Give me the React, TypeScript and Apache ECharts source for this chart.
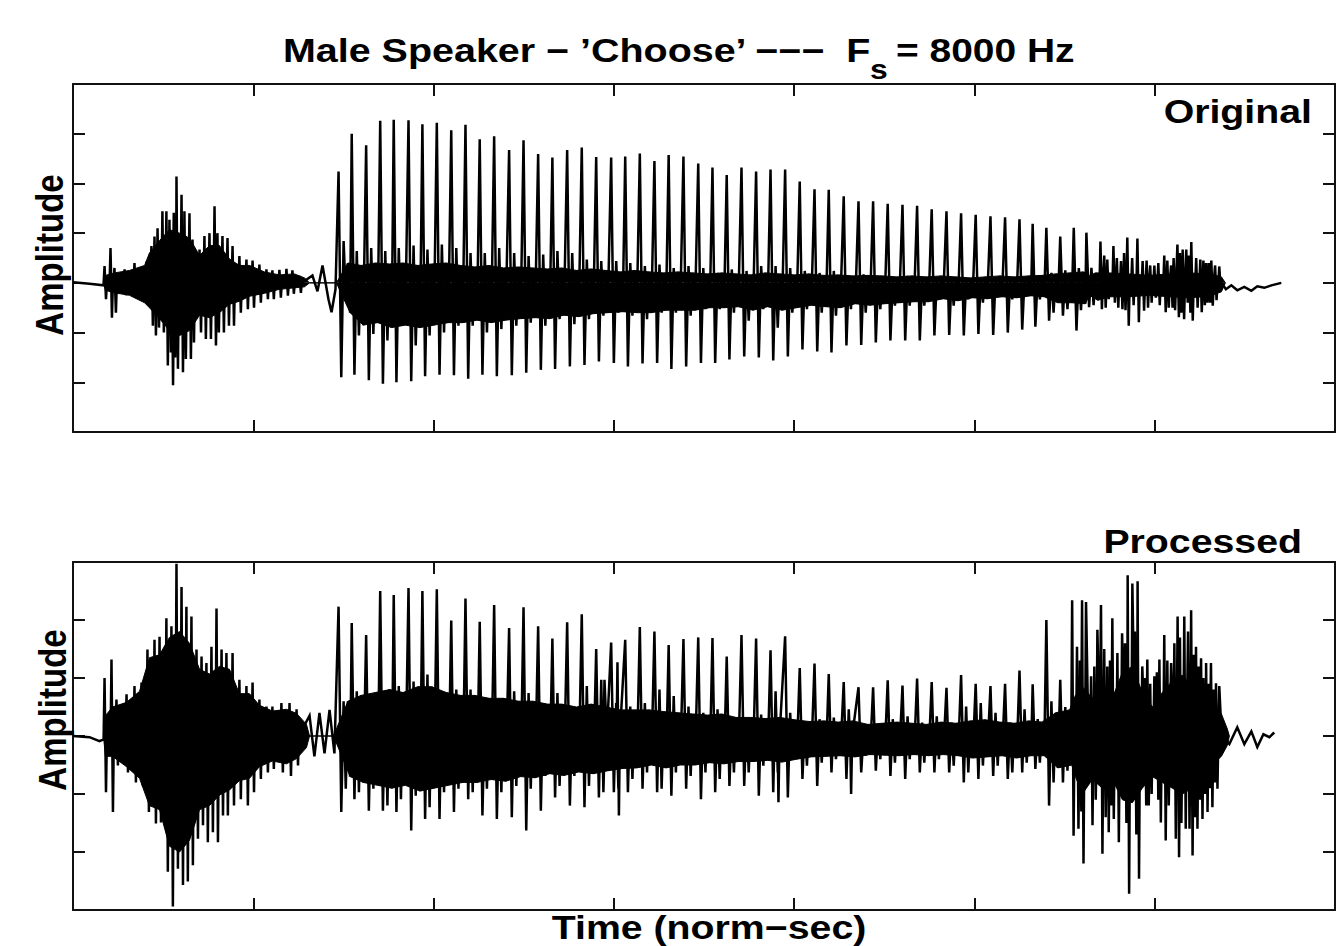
import React, { useEffect, useRef } from "react";
import * as echarts from "echarts";

// ---------------- text ----------------
const titleMain = "Male Speaker − ’Choose’ −−−  F";
const titleSub = "s";
const titleTail = "= 8000 Hz";
const topLabel = "Original";
const bottomLabel = "Processed";
const xLabel = "Time (norm−sec)";
const yLabel = "Amplitude";

// ---------------- axes (norm-sec / amplitude) ----------------
const xRange = [0, 7];
const topYRange = [-3, 4];
const bottomYRange = [-3, 3];

// ---------------- glottal pulse instants (norm-sec) ----------------
const pulseTimes = [
  1.473, 1.546, 1.626, 1.704, 1.779, 1.861, 1.938, 2.018, 2.098, 2.177,
  2.256, 2.336, 2.419, 2.499, 2.58, 2.659, 2.741, 2.822, 2.902, 2.985,
  3.063, 3.144, 3.225, 3.304, 3.386, 3.468, 3.547, 3.626, 3.708, 3.789,
  3.869, 3.95, 4.031, 4.113, 4.192, 4.275, 4.357, 4.438, 4.519, 4.601,
  4.682, 4.763, 4.845, 4.926, 5.007, 5.089, 5.17, 5.25, 5.323, 5.399,
  5.476, 5.551, 5.621,
];

// ---------------- ORIGINAL ----------------
const origPeak = [
  2.24, 3.0, 2.77, 3.26, 3.28, 3.27, 3.19, 3.22, 3.07, 3.18,
  2.89, 2.95, 2.67, 2.87, 2.59, 2.52, 2.67, 2.72, 2.53, 2.52,
  2.54, 2.6, 2.45, 2.57, 2.54, 2.4, 2.32, 2.17, 2.32, 2.24,
  2.28, 2.28, 2.04, 1.88, 1.87, 1.74, 1.64, 1.64, 1.59, 1.57,
  1.55, 1.48, 1.44, 1.4, 1.37, 1.34, 1.32, 1.28, 1.19, 1.11,
  0.93, 1.11, 1.01,
];
const origTrough = [
  -1.9, -1.85, -1.96, -2.03, -2.0, -1.98, -1.88, -1.85, -1.86, -1.93,
  -1.85, -1.88, -1.86, -1.81, -1.75, -1.73, -1.68, -1.65, -1.58, -1.61,
  -1.68, -1.62, -1.61, -1.73, -1.68, -1.61, -1.61, -1.54, -1.48, -1.5,
  -1.56, -1.48, -1.34, -1.38, -1.4, -1.26, -1.25, -1.2, -1.16, -1.16,
  -1.16, -1.06, -1.05, -1.06, -1.03, -1.05, -1.0, -0.94, -0.88, -0.76,
  -0.66, -0.96, -0.49,
];
const origRing = [
  0.84, 0.64, 0.7, 0.64, 0.7, 0.75, 0.67, 0.77, 0.7, 0.6,
  0.6, 0.7, 0.6, 0.54, 0.57, 0.64, 0.6, 0.47, 0.44, 0.44,
  0.4, 0.34, 0.37, 0.3, 0.34, 0.3, 0.2, 0.27, 0.24, 0.34,
  0.34, 0.3, 0.24, 0.2, 0.24, 0.14, 0.17, 0.1, 0.07, 0.14,
  0.1, 0.07, 0.1, 0.07, 0.1, 0.07, 0.07, 0.1, 0.14, 0.2,
  0.25, 0.3, 0.3,
];
const origDip = [
  -0.26, -1.06, -1.03, -1.16, -0.86, -1.26, -1.06, -1.0, -0.86, -0.86,
  -1.0, -0.93, -0.86, -0.8, -0.86, -0.73, -0.83, -0.73, -0.66, -0.6,
  -0.66, -0.73, -0.6, -0.6, -0.66, -0.53, -0.53, -0.6, -0.76, -0.53,
  -0.9, -0.6, -0.53, -0.6, -0.66, -0.53, -0.6, -0.53, -0.46, -0.46,
  -0.46, -0.33, -0.46, -0.33, -0.4, -0.26, -0.33, -0.26, -0.33, -0.6,
  -0.53, -0.55, -0.45,
];
const origRing2 = [
  0.4, 0.35, 0.4, 0.38, 0.4, 0.35, 0.38, 0.4, 0.35, 0.32,
  0.35, 0.3, 0.32, 0.3, 0.28, 0.3, 0.25, 0.28, 0.25, 0.22,
  0.25, 0.22, 0.2, 0.22, 0.2, 0.18, 0.2, 0.18, 0.16, 0.2,
  0.18, 0.16, 0.18, 0.15, 0.16, 0.14, 0.15, 0.14, 0.12, 0.14,
  0.12, 0.14, 0.12, 0.1, 0.12, 0.14, 0.12, 0.14, 0.15, 0.18,
  0.2, 0.22, 0.2,
];
const origDip2 = [
  -0.6, -0.85, -0.8, -0.9, -0.85, -0.9, -0.85, -0.8, -0.8, -0.75,
  -0.8, -0.75, -0.72, -0.7, -0.72, -0.65, -0.68, -0.62, -0.6, -0.58,
  -0.6, -0.6, -0.55, -0.55, -0.55, -0.5, -0.5, -0.48, -0.55, -0.48,
  -0.55, -0.5, -0.45, -0.48, -0.5, -0.42, -0.45, -0.42, -0.4, -0.38,
  -0.38, -0.32, -0.36, -0.3, -0.32, -0.28, -0.3, -0.26, -0.28, -0.4,
  -0.4, -0.42, -0.35,
];
// solid core of the noisy regions (fricative onset & final burst)
const origBandT = [
  0.169, 0.18, 0.23, 0.313, 0.397, 0.424, 0.48, 0.535, 0.591, 0.646, 0.702, 0.757, 0.812, 0.868, 0.923, 0.979, 1.062, 1.145, 1.228, 1.284, 1.312,
  1.461,
  5.638, 5.748, 5.859, 5.97, 6.081, 6.192, 6.303, 6.37, 6.392,
];
const origBandHi = [
  0, 0.15, 0.2, 0.25, 0.35, 0.6, 0.85, 1.07, 1.0, 0.9, 0.55, 0.75, 0.75, 0.48, 0.35, 0.35, 0.22, 0.16, 0.18, 0.1, 0,
  0,
  0.15, 0.2, 0.18, 0.15, 0.18, 0.2, 0.18, 0.12, 0,
];
const origBandLo = [
  0, -0.15, -0.2, -0.25, -0.4, -0.5, -0.72, -0.96, -1.06, -0.96, -0.65, -0.7, -0.6, -0.43, -0.37, -0.27, -0.21, -0.13, -0.1, -0.08, 0,
  0,
  -0.25, -0.28, -0.28, -0.25, -0.28, -0.3, -0.27, -0.18, 0,
];
const origSpikeT = [
  0.175, 0.208, 0.23, 0.286, 0.341, 0.369, 0.408, 0.435, 0.452, 0.469, 0.496, 0.518, 0.535, 0.547, 0.559, 0.574,
  0.602, 0.618, 0.646, 0.663, 0.702, 0.729, 0.757, 0.785, 0.801, 0.829, 0.857, 0.885, 0.923, 0.962, 0.996, 1.034,
  1.073, 1.106, 1.145, 1.184, 1.217, 1.256,
  5.699, 5.72, 5.737, 5.771, 5.79, 5.813, 5.83, 5.848, 5.875, 5.904, 5.933, 5.955, 5.975, 5.998, 6.02, 6.053, 6.07,
  6.091, 6.105, 6.126, 6.14, 6.155, 6.175, 6.19, 6.203, 6.23, 6.253, 6.27, 6.285, 6.3, 6.314, 6.335, 6.358,
];
const origSpikeUp = [
  0.34, 0.7, 0.3, 0.27, 0.4, 0.3, 0.43, 0.74, 0.93, 1.1, 1.44, 1.44, 1.27, 0.9, 1.41, 2.14,
  1.77, 1.44, 1.4, 0.87, 0.67, 0.94, 1.0, 1.54, 1.0, 0.94, 0.9, 0.74, 0.54, 0.47, 0.45, 0.37,
  0.27, 0.25, 0.26, 0.28, 0.25, 0.14,
  0.83, 0.55, 0.47, 0.74, 0.5, 0.44, 0.6, 0.91, 0.5, 0.89, 0.44, 0.45, 0.35, 0.35, 0.4, 0.55, 0.45,
  0.35, 0.5, 0.77, 0.6, 0.67, 0.67, 0.55, 0.82, 0.5, 0.47, 0.45, 0.4, 0.4, 0.45, 0.35, 0.33,
];
const origSpikeDown = [
  -0.33, -0.7, -0.6, -0.25, -0.3, -0.28, -0.4, -0.86, -1.06, -0.9, -1.0, -1.66, -1.4, -2.06, -1.5, -1.73,
  -1.8, -1.53, -1.53, -1.2, -1.0, -1.13, -1.13, -1.26, -1.0, -1.0, -0.86, -0.86, -0.6, -0.53, -0.5, -0.4,
  -0.33, -0.33, -0.3, -0.26, -0.22, -0.2,
  -0.53, -0.5, -0.33, -0.4, -0.5, -0.53, -0.55, -0.86, -0.45, -0.79, -0.56, -0.5, -0.4, -0.3, -0.45, -0.59, -0.5,
  -0.5, -0.55, -0.69, -0.6, -0.73, -0.4, -0.6, -0.76, -0.5, -0.59, -0.45, -0.4, -0.4, -0.46, -0.35, -0.13,
];
// lead-in, pre-voicing ripple and decaying tail
const origFreeT = [0, 0.0915, 0.169, 1.328, 1.356, 1.384, 1.417, 1.434, 1.456, 6.395, 6.425, 6.458, 6.497, 6.536, 6.569, 6.608, 6.647, 6.702];
const origFreeV = [0.01, -0.02, -0.05, 0.15, -0.17, 0.35, -0.33, -0.59, -0.13, -0.13, -0.05, -0.15, -0.08, -0.16, -0.07, -0.1, -0.05, 0];

// ---------------- PROCESSED ----------------
const procPeak = [
  2.23, 1.95, 1.74, 2.5, 2.43, 2.55, 2.5, 2.53, 1.99, 2.37,
  1.97, 2.26, 1.86, 2.22, 1.89, 1.68, 1.96, 2.1, 1.5, 1.61,
  1.66, 1.88, 1.8, 1.57, 1.67, 1.7, 1.69, 1.37, 1.74, 1.68,
  1.48, 1.72, 1.17, 1.25, 1.07, 0.93, 0.84, 0.84, 0.96, 0.87,
  0.99, 0.93, 0.83, 1.05, 0.9, 0.86, 0.9, 1.13, 0.89, 2.0,
  0.97,
];
const procTrough = [
  -1.31, -1.09, -1.29, -1.29, -1.31, -1.63, -1.43, -1.43, -1.31, -1.09,
  -1.37, -1.43, -1.4, -1.63, -1.29, -1.06, -1.2, -1.23, -1.06, -0.97,
  -0.97, -0.91, -0.97, -1.03, -0.91, -1.09, -0.97, -0.86, -0.86, -1.03,
  -0.97, -1.06, -0.74, -0.86, -0.63, -0.74, -0.63, -0.6, -0.69, -0.74,
  -0.63, -0.63, -0.63, -0.8, -0.74, -0.69, -0.74, -0.63, -0.57, -1.2,
  -0.8,
];
const procRing = [
  0.6, 0.77, 0.69, 0.77, 0.86, 0.94, 1.06, 0.74, 0.8, 0.8,
  0.43, 0.51, 0.77, 0.74, 0.57, 0.74, 0.4, 0.86, 0.97, 0.57,
  0.51, 0.57, 0.8, 0.69, 0.51, 0.4, 0.46, 0.29, 0.32, 0.37,
  0.77, 0.4, 0.23, 0.29, 0.32, 0.46, 0.06, 0.17, 0.29, 0.34,
  0.23, 0.34, 0.23, 0.51, 0.57, 0.4, 0.23, 0.46, 0.29, 0.6,
  0.5,
];
const procDip = [
  -0.91, -0.97, -0.91, -1.2, -1.09, -1.03, -1.23, -0.97, -0.91, -0.97,
  -0.91, -0.97, -0.86, -0.91, -0.69, -0.86, -0.69, -0.86, -0.97, -0.91,
  -0.74, -0.63, -0.91, -0.63, -0.69, -0.63, -0.74, -0.63, -0.63, -0.51,
  -0.63, -0.4, -0.51, -0.46, -0.4, -0.46, -0.34, -0.4, -0.46, -0.4,
  -0.46, -0.4, -0.51, -0.63, -0.51, -0.51, -0.63, -0.46, -0.46, -0.8,
  -0.6,
];
const procRing2 = [
  0.6, 0.7, 0.75, 0.8, 0.75, 0.85, 0.85, 0.75, 0.7, 0.7,
  0.65, 0.65, 0.6, 0.6, 0.55, 0.55, 0.5, 0.55, 0.5, 0.45,
  0.45, 0.45, 0.42, 0.4, 0.38, 0.36, 0.38, 0.32, 0.32, 0.3,
  0.32, 0.28, 0.25, 0.26, 0.24, 0.26, 0.2, 0.22, 0.24, 0.22,
  0.2, 0.24, 0.22, 0.26, 0.28, 0.24, 0.22, 0.26, 0.24, 0.4,
  0.45,
];
const procDip2 = [
  -0.7, -0.8, -0.85, -0.9, -0.85, -0.95, -0.9, -0.85, -0.8, -0.8,
  -0.75, -0.78, -0.7, -0.72, -0.65, -0.68, -0.62, -0.65, -0.6, -0.56,
  -0.55, -0.5, -0.55, -0.5, -0.5, -0.46, -0.48, -0.44, -0.44, -0.42,
  -0.45, -0.4, -0.36, -0.35, -0.34, -0.36, -0.32, -0.33, -0.34, -0.32,
  -0.34, -0.32, -0.34, -0.38, -0.36, -0.34, -0.38, -0.34, -0.34, -0.55,
  -0.5,
];
const procBandT = [
  0.169, 0.18, 0.219, 0.297, 0.369, 0.424, 0.48, 0.535, 0.591, 0.646, 0.702, 0.757, 0.812, 0.868, 0.923, 0.979, 1.034, 1.106, 1.184, 1.24, 1.295, 1.312,
  1.445,
  5.56, 5.599, 5.654, 5.71, 5.765, 5.821, 5.876, 5.931, 5.987, 6.042, 6.098, 6.153, 6.209, 6.264, 6.32, 6.37, 6.403, 6.414,
];
const procBandHi = [
  0, 0.35, 0.5, 0.58, 0.77, 1.35, 1.4, 1.7, 1.8, 1.6, 1.15, 1.07, 1.2, 1.15, 0.73, 0.73, 0.53, 0.43, 0.46, 0.39, 0.2, 0,
  0,
  0.7, 0.85, 0.65, 0.9, 0.65, 1.1, 1.2, 0.75, 0.5, 0.75, 0.95, 1.05, 0.85, 0.55, 0.55, 0.38, 0.12, 0,
];
const procBandLo = [
  0, -0.35, -0.35, -0.53, -0.73, -1.2, -1.27, -1.9, -2.0, -1.8, -1.27, -1.2, -1.02, -0.93, -0.77, -0.73, -0.53, -0.43, -0.48, -0.39, -0.2, 0,
  0,
  -0.7, -1.0, -0.75, -0.9, -0.75, -1.1, -1.15, -0.9, -0.7, -0.8, -0.9, -1.0, -0.9, -0.6, -0.5, -0.35, -0.16, 0,
];
const procSpikeT = [
  0.175, 0.2135, 0.241, 0.297, 0.341, 0.38, 0.413, 0.452, 0.48, 0.518, 0.546, 0.574, 0.602, 0.629, 0.657, 0.685,
  0.713, 0.74, 0.768, 0.796, 0.824, 0.851, 0.885, 0.923, 0.962, 0.996, 1.034, 1.073, 1.106, 1.156, 1.201, 1.24,
  2.948, 3.02, 3.913, 4.316,
  5.542, 5.569, 5.585, 5.597, 5.619, 5.647, 5.665, 5.682, 5.702, 5.72, 5.737, 5.752, 5.765, 5.793, 5.819, 5.835,
  5.85, 5.876, 5.89, 5.905, 5.931, 5.945, 5.959, 5.975, 5.998, 6.012, 6.026, 6.053, 6.07, 6.091, 6.109, 6.127,
  6.14, 6.164, 6.185, 6.202, 6.215, 6.229, 6.243, 6.257, 6.27, 6.285, 6.298, 6.312, 6.326, 6.34, 6.358,
];
const procSpikeUp = [
  1.0, 1.32, 0.63, 0.72, 0.86, 0.92, 1.49, 1.66, 1.71, 2.03, 1.89, 2.97, 2.57, 2.23, 2.06, 1.49,
  1.37, 1.26, 1.54, 2.2, 1.49, 1.43, 1.43, 0.97, 0.86, 0.92, 0.63, 0.51, 0.51, 0.57, 0.57, 0.46,
  0.97, 1.27, 0, 0,
  2.34, 1.54, 1.3, 2.34, 2.31, 1.03, 1.2, 1.83, 2.26, 1.5, 1.2, 1.3, 2.03, 1.43, 1.77, 1.6,
  2.77, 2.63, 1.8, 2.67, 1.2, 1.0, 1.32, 0.9, 1.03, 1.1, 1.32, 1.74, 1.3, 1.26, 1.6, 2.06,
  1.7, 2.06, 1.8, 2.17, 1.4, 1.54, 1.2, 1.34, 1.0, 1.26, 0.9, 1.26, 0.8, 0.91, 0.86,
];
const procSpikeDown = [
  -0.97, -1.31, -0.51, -0.63, -0.8, -0.86, -1.31, -1.51, -1.49, -2.34, -2.94, -2.29, -2.57, -2.51, -2.23, -1.77,
  -1.54, -1.83, -1.66, -1.83, -1.37, -1.37, -1.2, -1.09, -1.2, -0.97, -0.74, -0.63, -0.57, -0.63, -0.69, -0.51,
  0, -1.37, -1.14, -1.0,
  -1.72, -1.6, -1.3, -2.2, 0, -1.54, -1.1, 0, -2.03, -1.4, -1.66, -1.2, -1.43, -1.83, 0, -1.5,
  -2.72, 0, -1.7, -2.46, 0, -1.2, -1.2, -1.0, 0, -1.1, -1.49, -1.8, -1.2, 0, -1.77, -2.09,
  -1.5, -1.6, -1.6, -2.06, -1.4, -1.6, -1.1, -1.43, -1.0, -1.31, -0.9, -1.23, -0.8, -0.91, 0,
];
const procFreeT = [0, 0.0915, 0.147, 0.169, 1.312, 1.339, 1.367, 1.395, 1.423, 1.45, 6.414, 6.458, 6.497, 6.536, 6.569, 6.603, 6.636, 6.663];
const procFreeV = [0, -0.02, -0.09, -0.06, 0.35, -0.35, 0.4, -0.3, 0.45, -0.3, -0.14, 0.15, -0.14, 0.08, -0.19, 0.03, -0.02, 0.06];

// ---------------- helpers ----------------
type Pt = [number, number];
type Ev = { t: number; pts: Pt[] };

function buildTrace(
  freeT: number[], freeV: number[],
  spikeT: number[], spikeUp: number[], spikeDown: number[],
  pT: number[], peak: number[], trough: number[],
  ring: number[], dip: number[], ring2: number[], dip2: number[]
): Pt[] {
  const evs: Ev[] = [];
  freeT.forEach((t, i) => evs.push({ t, pts: [[t, freeV[i]]] }));
  spikeT.forEach((t, i) => {
    const u = spikeUp[i];
    const d = spikeDown[i];
    const pts: Pt[] = [[t - 0.005, 0]];
    if (u !== 0) {
      pts.push([t, u]);
      if (d !== 0) pts.push([t + 0.008, d]);
      pts.push([t + 0.013, 0]);
    } else {
      pts.push([t, d], [t + 0.006, 0]);
    }
    evs.push({ t, pts });
  });
  peak.forEach((p, i) => {
    const t = pT[i];
    evs.push({
      t,
      pts: [
        [t, p],
        [t + 0.015, trough[i]],
        [t + 0.028, ring[i]],
        [t + 0.04, dip[i]],
        [t + 0.052, ring2[i]],
        [t + 0.064, dip2[i]],
      ],
    });
  });
  evs.sort((a, b) => a.t - b.t);
  const out: Pt[] = [];
  evs.forEach((e) => e.pts.forEach((p) => out.push(p)));
  return out;
}

// band edge: noise-core knots merged with the per-pulse ringing extremes
function bandData(T: number[], V: number[], pT: number[], pV: number[], off: number): Pt[] {
  const pts: Pt[] = T.map((t, i) => [t, V[i]] as Pt);
  pV.forEach((v, i) => pts.push([pT[i] + off, v]));
  pts.sort((a, b) => a[0] - b[0]);
  return pts;
}

const FONT = '"Liberation Sans", Arial, Helvetica, sans-serif';

function axisPair(grid: number, yr: number[]) {
  const common = {
    gridIndex: grid,
    axisLine: { show: true, onZero: false, lineStyle: { color: "#111", width: 2 } },
    axisTick: { show: true, inside: true, length: 12, lineStyle: { color: "#111", width: 2 } },
    axisLabel: { show: false },
    splitLine: { show: false },
  };
  const xs = [
    { ...common, type: "value", position: "bottom", min: xRange[0], max: xRange[1], interval: 1 },
    { ...common, type: "value", position: "top", min: xRange[0], max: xRange[1], interval: 1 },
  ];
  const ys = [
    { ...common, type: "value", position: "left", min: yr[0], max: yr[1], interval: 1 },
    { ...common, type: "value", position: "right", min: yr[0], max: yr[1], interval: 1 },
  ];
  return { xs, ys };
}

function bandSeries(xi: number, yi: number, data: Pt[]) {
  return {
    type: "line",
    xAxisIndex: xi,
    yAxisIndex: yi,
    data,
    symbol: "none",
    silent: true,
    lineStyle: { color: "#000", width: 1 },
    areaStyle: { color: "#000", opacity: 1 },
    z: 2,
  };
}

function traceSeries(xi: number, yi: number, data: Pt[]) {
  return {
    type: "line",
    xAxisIndex: xi,
    yAxisIndex: yi,
    data,
    symbol: "none",
    silent: true,
    lineStyle: { color: "#000", width: 2.5, join: "miter", miterLimit: 4 },
    z: 3,
  };
}

function txt(x: number, y: number, text: string, size: number, align: string, extra: any = {}) {
  return {
    type: "text",
    x,
    y,
    scaleX: 1.19,
    ...extra,
    style: {
      text,
      fill: "#000",
      fontSize: size,
      fontWeight: "bold",
      fontFamily: FONT,
      textAlign: align,
      textVerticalAlign: "middle",
      align,
      verticalAlign: "middle",
    },
    z: 10,
  };
}

export default function App() {
  const ref = useRef<HTMLDivElement>(null);
  useEffect(() => {
    if (!ref.current) return;
    const chart = echarts.init(ref.current, undefined, { renderer: "svg" });
    const top = axisPair(0, topYRange);
    const bot = axisPair(1, bottomYRange);
    const origTrace = buildTrace(
      origFreeT, origFreeV, origSpikeT, origSpikeUp, origSpikeDown,
      pulseTimes, origPeak, origTrough, origRing, origDip, origRing2, origDip2
    );
    const procTrace = buildTrace(
      procFreeT, procFreeV, procSpikeT, procSpikeUp, procSpikeDown,
      pulseTimes, procPeak, procTrough, procRing, procDip, procRing2, procDip2
    );
    chart.setOption({
      animation: false,
      backgroundColor: "#fff",
      grid: [
        { left: 73, top: 84, width: 1262, height: 348, containLabel: false },
        { left: 73, top: 562, width: 1262, height: 348, containLabel: false },
      ],
      xAxis: [...top.xs, ...bot.xs],
      yAxis: [...top.ys, ...bot.ys],
      series: [
        bandSeries(0, 0, bandData(origBandT, origBandHi, pulseTimes, origRing2, 0.052)),
        bandSeries(0, 0, bandData(origBandT, origBandLo, pulseTimes, origDip2, 0.064)),
        traceSeries(0, 0, origTrace),
        bandSeries(2, 2, bandData(procBandT, procBandHi, pulseTimes, procRing2, 0.052)),
        bandSeries(2, 2, bandData(procBandT, procBandLo, pulseTimes, procDip2, 0.064)),
        traceSeries(2, 2, procTrace),
      ],
      graphic: [
        txt(283, 51, titleMain, 33, "left", { scaleX: 1.195 }),
        txt(870, 69, titleSub, 27, "left", { scaleX: 1.18 }),
        txt(896, 51, titleTail, 33, "left", { scaleX: 1.18 }),
        txt(1312, 112, topLabel, 33, "right"),
        txt(1302, 542, bottomLabel, 33, "right"),
        txt(709, 928, xLabel, 33, "center"),
        txt(49, 255, yLabel, 33, "center", { scaleX: 1, scaleY: 1.19, rotation: Math.PI / 2 }),
        txt(52, 710, yLabel, 33, "center", { scaleX: 1, scaleY: 1.19, rotation: Math.PI / 2 }),
      ],
    });
    return () => chart.dispose();
  }, []);
  return (
    <div
      ref={ref}
      style={{ position: "fixed", left: 0, top: 0, width: 1336, height: 946, background: "#fff" }}
    />
  );
}
